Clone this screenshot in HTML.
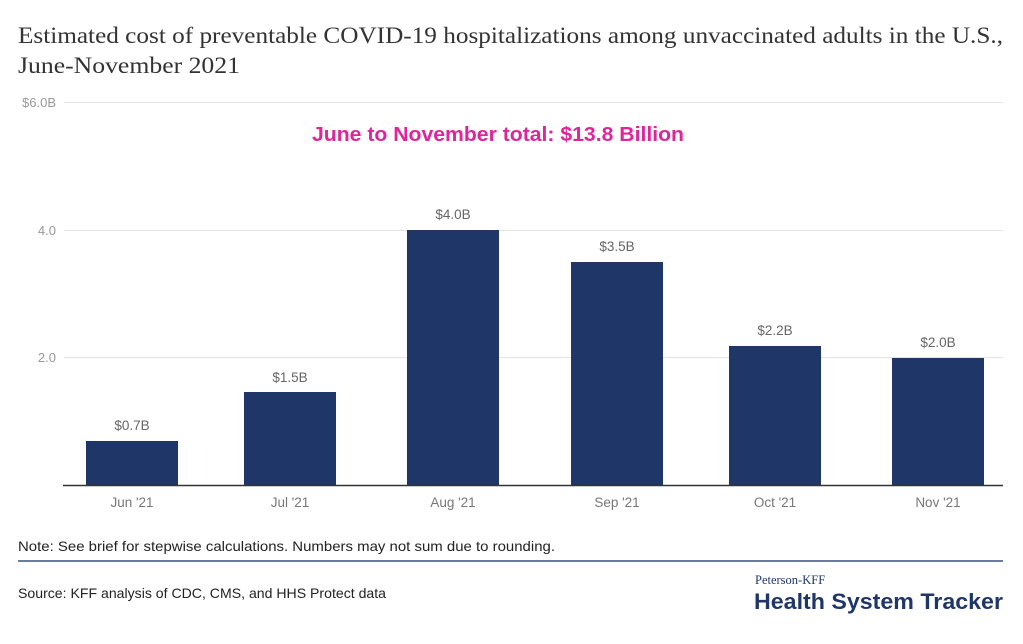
<!DOCTYPE html>
<html><head><meta charset="utf-8"><style>
body{margin:0;width:1023px;height:644px;background:#fff;position:relative;overflow:hidden;font-family:"Liberation Sans",sans-serif}
</style></head><body>
<svg width="1023" height="644" style="position:absolute;left:0;top:0" font-family="Liberation Sans, sans-serif">
<g font-family="Liberation Serif, serif" font-size="23" fill="#333">
<text x="18" y="43" textLength="985" lengthAdjust="spacingAndGlyphs">Estimated cost of preventable COVID-19 hospitalizations among unvaccinated adults in the U.S.,</text>
<text x="18" y="73" textLength="222" lengthAdjust="spacingAndGlyphs">June-November 2021</text>
</g>
<g stroke="#e3e3e3" stroke-width="1">
<line x1="64" x2="1003" y1="102.5" y2="102.5"/>
<line x1="64" x2="1003" y1="230.5" y2="230.5"/>
<line x1="64" x2="1003" y1="357.5" y2="357.5"/>
</g>
<g fill="#999" font-size="13" text-anchor="end">
<text x="56" y="107">$6.0B</text>
<text x="56" y="235">4.0</text>
<text x="56" y="362">2.0</text>
</g>
<text x="312" y="141" fill="#e0249a" font-size="20" font-weight="bold" textLength="372" lengthAdjust="spacingAndGlyphs">June to November total: $13.8 Billion</text>
<g fill="#1f3768">
<rect x="86" y="441" width="92" height="44"/>
<rect x="244" y="392" width="92" height="93"/>
<rect x="407" y="230" width="92" height="255"/>
<rect x="571" y="262" width="92" height="223"/>
<rect x="729" y="346" width="92" height="139"/>
<rect x="892" y="358" width="92" height="127"/>
</g>
<line x1="63" x2="1003" y1="485.5" y2="485.5" stroke="#333" stroke-width="1.5"/>
<g fill="#666" font-size="13.5" text-anchor="middle">
<text x="132" y="430">$0.7B</text>
<text x="290" y="382">$1.5B</text>
<text x="453" y="219">$4.0B</text>
<text x="617" y="251">$3.5B</text>
<text x="775" y="335">$2.2B</text>
<text x="938" y="347">$2.0B</text>
</g>
<g fill="#777" font-size="13.5" text-anchor="middle">
<text x="132" y="507">Jun '21</text>
<text x="290" y="507">Jul '21</text>
<text x="453" y="507">Aug '21</text>
<text x="617" y="507">Sep '21</text>
<text x="775" y="507">Oct '21</text>
<text x="938" y="507">Nov '21</text>
</g>
<text x="18" y="551" fill="#222" font-size="14" textLength="537" lengthAdjust="spacingAndGlyphs">Note: See brief for stepwise calculations. Numbers may not sum due to rounding.</text>
<line x1="18" x2="1003" y1="561" y2="561" stroke="#3a5080" stroke-width="1.5"/>
<text x="18" y="598" fill="#222" font-size="14" textLength="368" lengthAdjust="spacingAndGlyphs">Source: KFF analysis of CDC, CMS, and HHS Protect data</text>
<text x="755" y="584" fill="#1f3768" font-size="12.5" font-family="Liberation Serif, serif">Peterson-KFF</text>
<text x="754" y="609" fill="#1f3768" font-size="22" font-weight="bold" textLength="249" lengthAdjust="spacingAndGlyphs">Health System Tracker</text>
</svg>
</body></html>
